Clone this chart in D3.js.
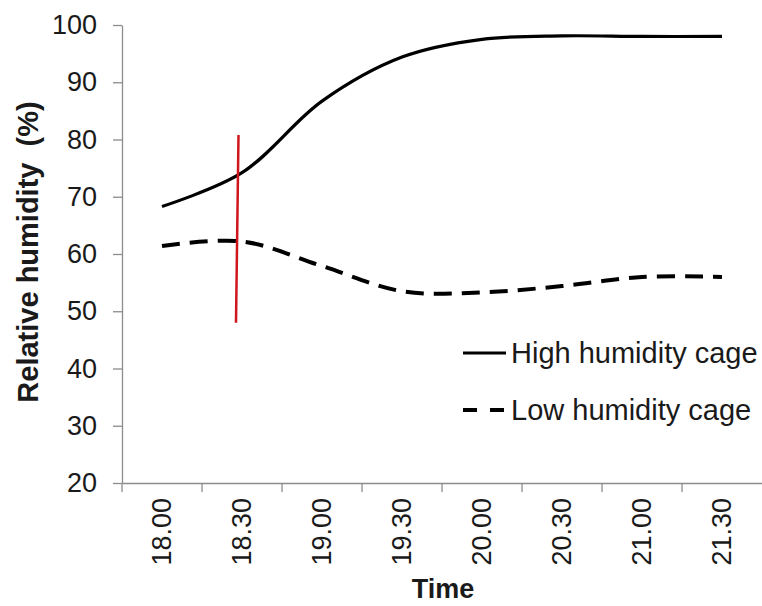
<!DOCTYPE html>
<html>
<head>
<meta charset="utf-8">
<script src="https://cdn.jsdelivr.net/npm/d3@7"></script>
<style>
  html, body { margin: 0; padding: 0; background: #fff; overflow: hidden; }
  svg { display: block; font-family: "Liberation Sans", Arial, sans-serif; }
</style>
</head>
<body>
<div id="chart"></div>
<script>
// Data
const times = ["18.00", "18.30", "19.00", "19.30", "20.00", "20.30", "21.00", "21.30"];
const highHumidity = [68.3, 74.2, 86.7, 94.4, 97.5, 98.1, 98.0, 98.0];
const lowHumidity = [61.4, 62.2, 57.9, 53.5, 53.3, 54.4, 56.0, 56.0];
const yTicks = [20, 30, 40, 50, 60, 70, 80, 90, 100];
const markerTime = "18.30";
const markerRange = [48, 80.8];
const seriesNames = ["High humidity cage", "Low humidity cage"];

const width = 762, height = 606;
const margin = { top: 25, right: 0, bottom: 123, left: 122 };
const innerWidth = width - margin.left - margin.right;
const innerHeight = height - margin.top - margin.bottom;
const fontSize = 27;

const svg = d3.select("#chart").append("svg")
  .attr("width", width)
  .attr("height", height);

const chart = svg.append("g")
  .attr("transform", `translate(${margin.left},${margin.top})`);

// Scales
const x = d3.scaleBand().domain(times).range([0, innerWidth]).padding(0);
const y = d3.scaleLinear().domain([20, 100]).range([innerHeight, 0]);
const cx = d => x(d) + x.bandwidth() / 2;

// Y axis
const yAxis = chart.append("g")
  .call(d3.axisLeft(y).tickValues(yTicks).tickSize(9).tickSizeOuter(0).tickPadding(16));
yAxis.select(".domain").attr("stroke", "#8c8c8c").attr("stroke-width", 1.3);
yAxis.selectAll(".tick line").attr("stroke", "#8c8c8c").attr("stroke-width", 1.3);
yAxis.selectAll(".tick text")
  .style("font-size", fontSize + "px")
  .attr("fill", "#1a1a1a");

// X axis (ticks between categories, like a spreadsheet category axis)
const xAxis = chart.append("g")
  .attr("transform", `translate(0,${innerHeight})`)
  .call(d3.axisBottom(x).tickSize(0).tickSizeOuter(0).tickFormat(""));
xAxis.select(".domain").attr("stroke", "#8c8c8c").attr("stroke-width", 1.3);

chart.append("g")
  .selectAll("line")
  .data(times)
  .join("line")
  .attr("x1", d => x(d))
  .attr("x2", d => x(d))
  .attr("y1", innerHeight)
  .attr("y2", innerHeight + 9)
  .attr("stroke", "#8c8c8c")
  .attr("stroke-width", 1.3);

// rotated category labels
chart.append("g")
  .selectAll("g")
  .data(times)
  .join("g")
  .attr("transform", d => `translate(${cx(d)},${innerHeight + 15}) rotate(-90)`)
  .append("text")
  .attr("text-anchor", "end")
  .attr("dy", "0.35em")
  .style("font-size", fontSize + "px")
  .attr("fill", "#1a1a1a")
  .text(d => d);

// Axis titles
svg.append("text")
  .attr("x", 443)
  .attr("y", 598)
  .attr("text-anchor", "middle")
  .style("font-size", fontSize + "px")
  .attr("font-weight", "bold")
  .attr("fill", "#1a1a1a")
  .text("Time");

svg.append("text")
  .attr("transform", "translate(38,252) rotate(-90)")
  .attr("text-anchor", "middle")
  .style("font-size", "29px")
  .attr("font-weight", "bold")
  .attr("fill", "#1a1a1a")
  .attr("xml:space", "preserve")
  .text("Relative humidity  (%)");

// Lines
const line = d3.line()
  .x((d, i) => cx(times[i]))
  .y(d => y(d))
  .curve(d3.curveCatmullRom.alpha(0.5));

chart.append("path")
  .datum(highHumidity)
  .attr("fill", "none")
  .attr("stroke", "#000")
  .attr("stroke-width", 3.2)
  .attr("d", line);

chart.append("path")
  .datum(lowHumidity)
  .attr("fill", "none")
  .attr("stroke", "#000")
  .attr("stroke-width", 4)
  .attr("stroke-dasharray", "18,10")
  .attr("d", line);

// Red marker line at 18.30
chart.append("line")
  .attr("x1", cx(markerTime) - 3.5)
  .attr("x2", cx(markerTime) - 6)
  .attr("y1", y(markerRange[1]))
  .attr("y2", y(markerRange[0]))
  .attr("stroke", "#d0151c")
  .attr("stroke-width", 2.5);

// Legend
const legend = svg.append("g").attr("transform", "translate(463,353)");
seriesNames.forEach((name, i) => {
  const g = legend.append("g").attr("transform", `translate(0,${i * 57})`);
  g.append("line")
    .attr("x1", 0).attr("x2", 43)
    .attr("y1", 0).attr("y2", 0)
    .attr("stroke", "#000")
    .attr("stroke-width", i === 1 ? 4 : 3.2)
    .attr("stroke-dasharray", i === 1 ? "14,13" : null);
  g.append("text")
    .attr("x", 48)
    .attr("y", 0)
    .attr("dy", "0.35em")
    .style("font-size", "29px")
    .attr("fill", "#1a1a1a")
    .text(name);
});
</script>
</body>
</html>
